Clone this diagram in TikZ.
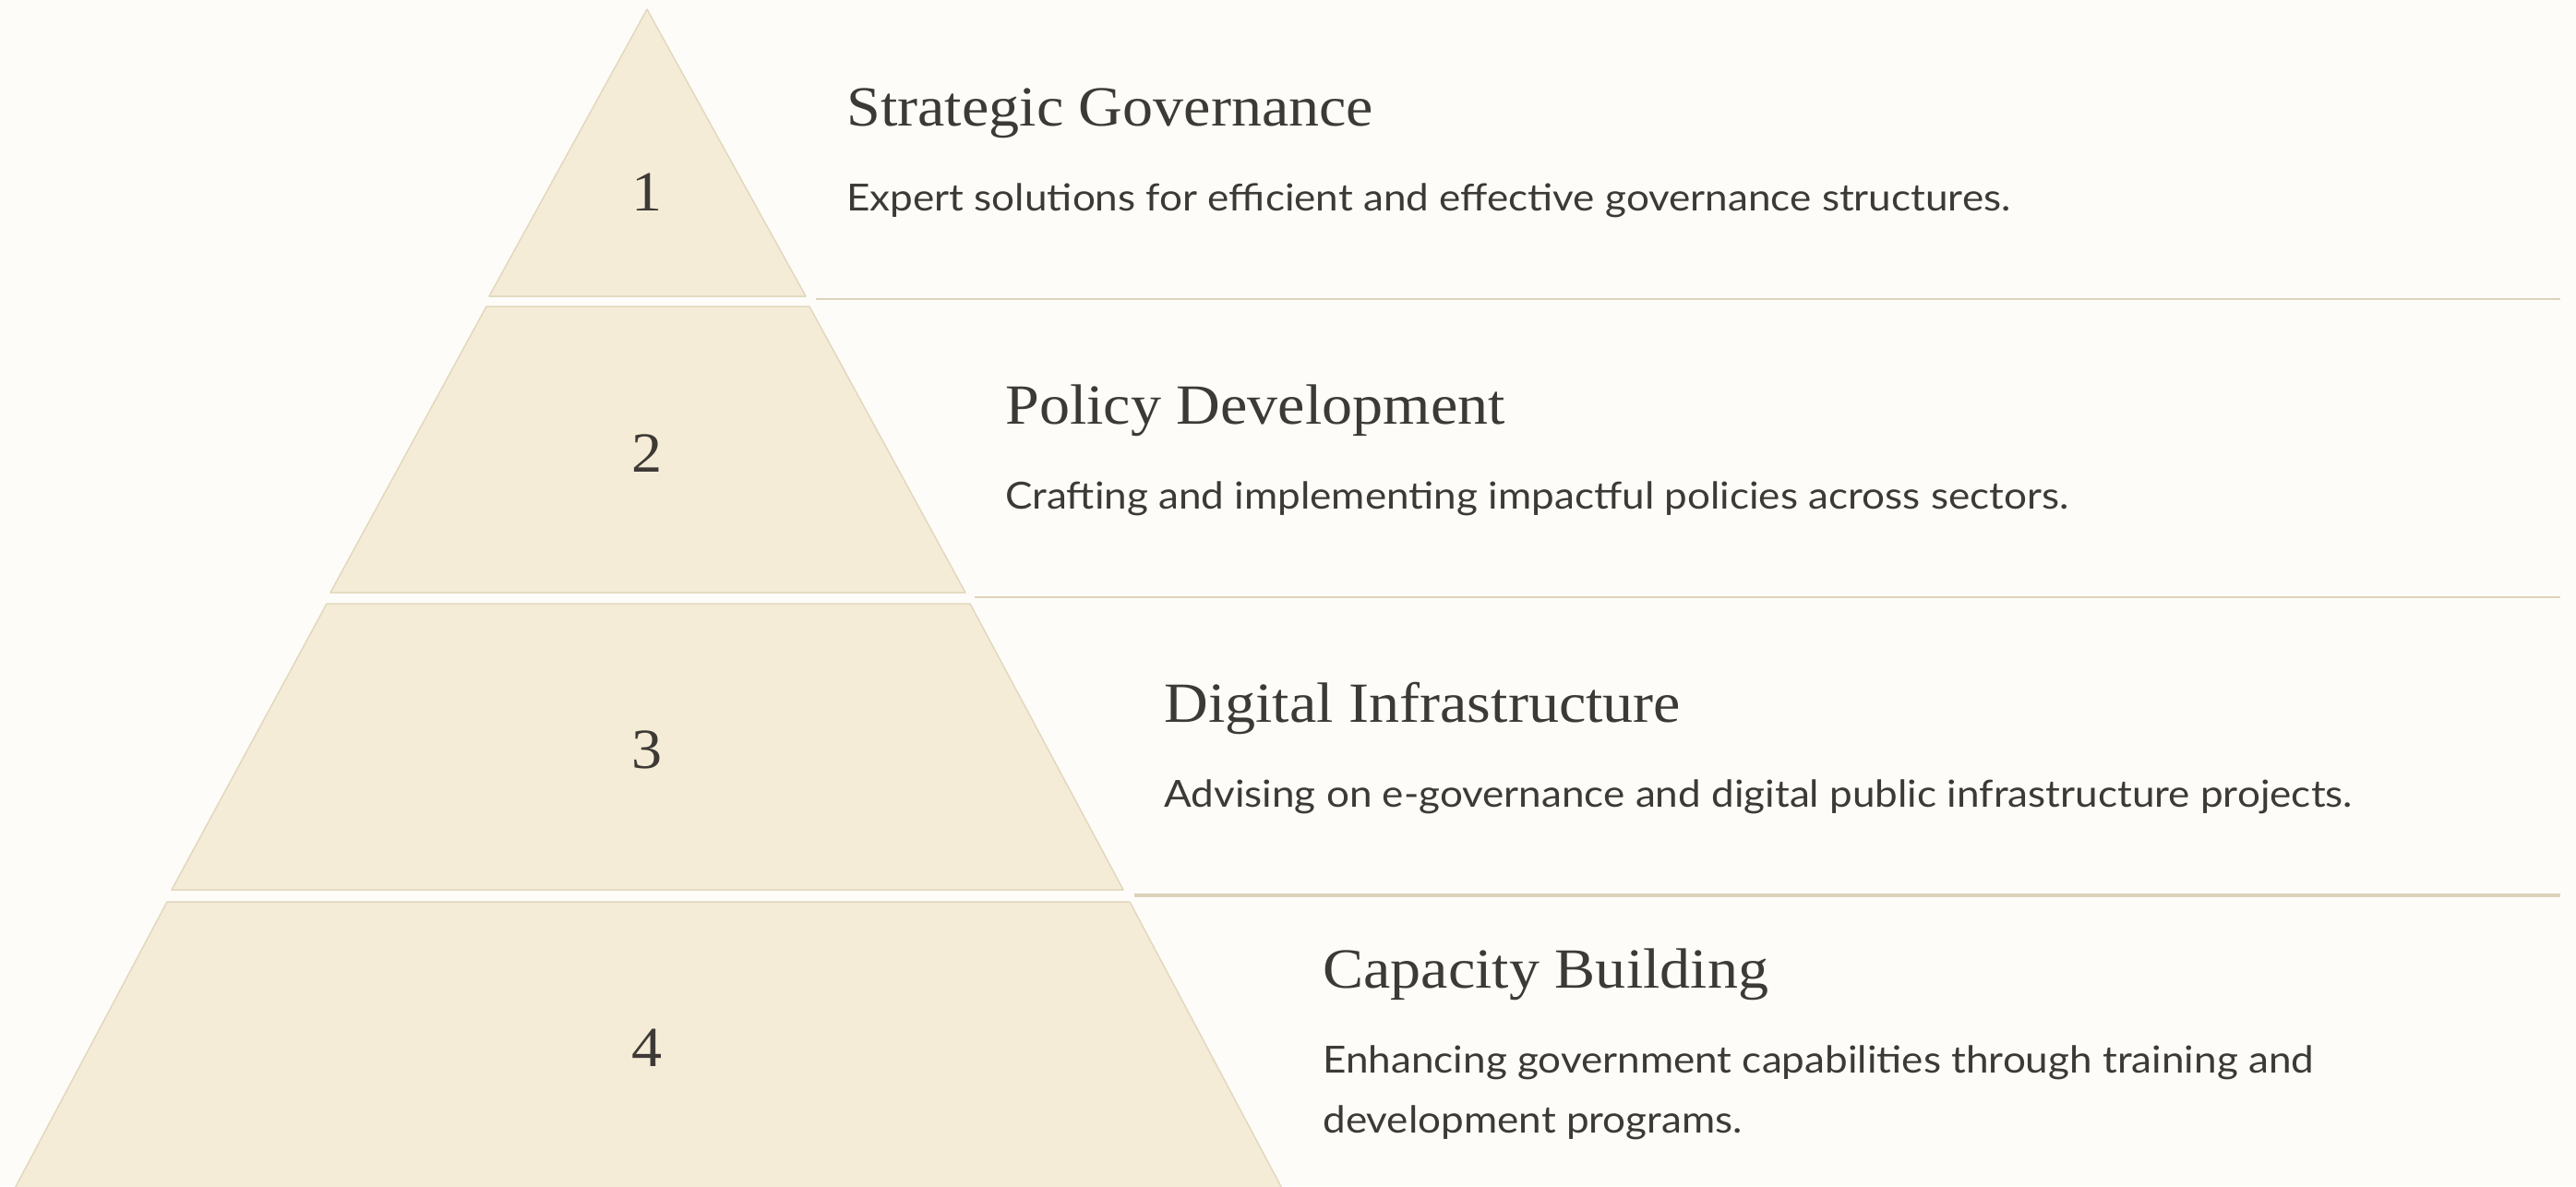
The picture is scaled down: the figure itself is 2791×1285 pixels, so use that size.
\documentclass[tikz,border=0pt]{standalone}
\usepackage{fontspec}
\setmainfont{Liberation Serif}
\newfontfamily\ttlfont[FakeStretch=1.075]{Liberation Serif}
\newfontfamily\descfont[FakeStretch=1.09]{Lato}
\definecolor{bgc}{HTML}{FDFCF8}
\definecolor{layerfill}{HTML}{F5ECD7}
\definecolor{layerdraw}{HTML}{E2D8BF}
\definecolor{sepc}{HTML}{DDD3BB}
\definecolor{txt}{HTML}{3D3A36}
\begin{document}
\begin{tikzpicture}[x=0.02cm,y=-0.02cm,
  layer/.style={fill=layerfill,draw=layerdraw,line width=0.03cm,line join=round},
  sepline/.style={draw=sepc,line width=0.04cm},
  numtxt/.style={anchor=base,text=txt,font=\ttlfont\fontsize{35}{40}\selectfont,inner sep=0},
  ttl/.style={anchor=base west,text=txt,font=\ttlfont\fontsize{35}{40}\selectfont,inner sep=0},
  dsc/.style={anchor=base west,text=txt,font=\descfont\fontsize{23}{37}\selectfont,inner sep=0}]
\useasboundingbox (0,0) rectangle (2791,1285);
\fill[bgc] (0,0) rectangle (2791,1285);
\clip (0,0) rectangle (2791,1285);
% layers
\path[layer] (701,10) -- (873,321) -- (530,321) -- cycle;
\path[layer] (527,332) -- (877,332) -- (1046,642) -- (358,642) -- cycle;
\path[layer] (354,654) -- (1051,654) -- (1217,964) -- (186,964) -- cycle;
\path[layer] (181,977) -- (1224,977) -- (1393,1295) -- (12,1295) -- cycle;
% numbers
\node[numtxt] (n1) at (701,228) {1};
\node[numtxt] (n2) at (701,511) {2};
\node[numtxt] (n3) at (701,832) {3};
\node[numtxt] (n4) at (701,1155) {4};
% separators
\coordinate (s1a) at (884,324); \coordinate (s1b) at (2774,324);
\coordinate (s2a) at (1056,647); \coordinate (s2b) at (2774,647);
\coordinate (s3a) at (1229,970); \coordinate (s3b) at (2774,970);
\draw[sepline] (s1a) -- (s1b);
\draw[sepline] (s2a) -- (s2b);
\draw[sepline,line width=0.08cm] (s3a) -- (s3b);
% texts
\node[ttl] (t1) at (917,136) {Strategic Governance};
\node[dsc] (d1) at (917,228) {Expert solutions for efficient and effective governance structures.};
\node[ttl] (t2) at (1089,459) {Policy Development};
\node[dsc] (d2) at (1089,551) {Crafting and implementing impactful policies across sectors.};
\node[ttl] (t3) at (1261,782) {Digital Infrastructure};
\node[dsc] (d3) at (1261,874) {Advising on e-governance and digital public infrastructure projects.};
\node[ttl] (t4) at (1433,1070) {Capacity Building};
\node[dsc] (d4) at (1433,1162) {Enhancing government capabilities through training and};
\node[dsc] (d4b) at (1433,1227) {development programs.};
\end{tikzpicture}
\end{document}
